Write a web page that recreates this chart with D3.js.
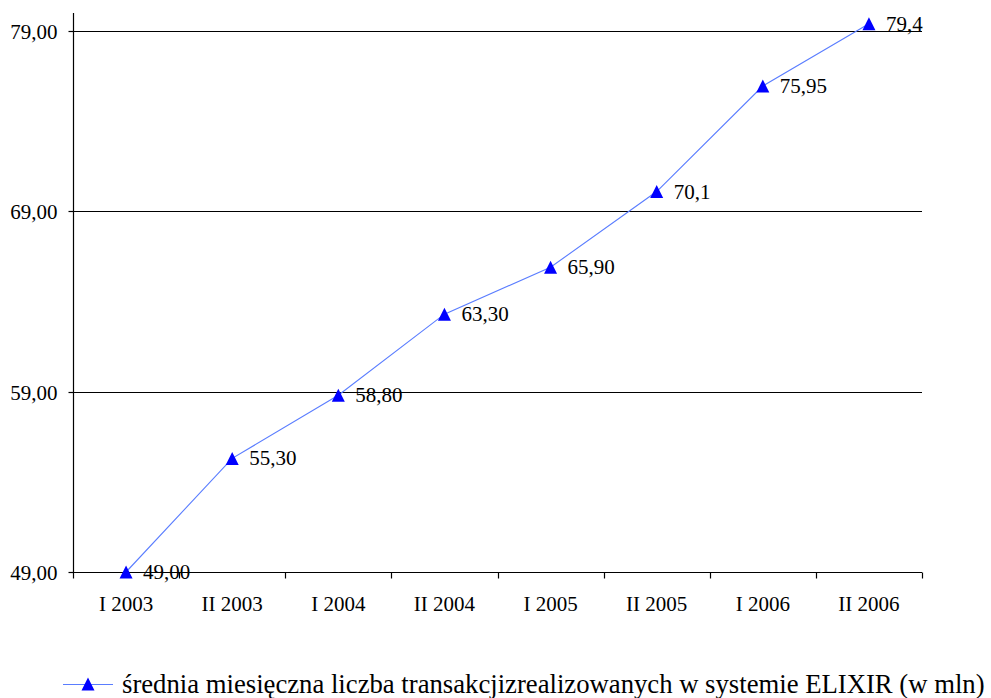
<!DOCTYPE html>
<html>
<head>
<meta charset="utf-8">
<script src="https://cdn.jsdelivr.net/npm/d3@7"></script>
<style>
  html, body { margin: 0; padding: 0; background: #fff; }
  svg { display: block; }
  svg text { font-family: "Liberation Serif", "Times New Roman", "DejaVu Serif", serif; fill: #000; }
</style>
</head>
<body>
<svg id="chart" width="991" height="698"></svg>
<script>
// Half-year periods
const categories = ["I 2003", "II 2003", "I 2004", "II 2004", "I 2005", "II 2005", "I 2006", "II 2006"];
// Average monthly number of ELIXIR transactions (millions)
const values = [49.00, 55.30, 58.80, 63.30, 65.90, 70.1, 75.95, 79.4];
// Value labels as printed next to each point
const valueLabels = ["49,00", "55,30", "58,80", "63,30", "65,90", "70,1", "75,95", "79,4"];
const yTicks = [49, 59, 69, 79];
const legendLabel = "średnia miesięczna liczba transakcjizrealizowanych w systemie ELIXIR (w mln)";

const svg = d3.select("#chart");
const plotLeft = 73, plotRight = 922, plotTop = 13, plotBottom = 572;
const labelFont = "21px";

const x = d3.scaleBand().domain(categories).range([plotLeft, plotRight]);
const y = d3.scaleLinear().domain([49, 80]).range([plotBottom, plotTop]);

// Horizontal gridlines
svg.append("g")
  .selectAll("line")
  .data(yTicks)
  .join("line")
  .attr("x1", plotLeft).attr("x2", plotRight)
  .attr("y1", d => Math.round(y(d)) + 0.5).attr("y2", d => Math.round(y(d)) + 0.5)
  .attr("stroke", "#000").attr("stroke-width", 1.2);

// Y axis
const yAxis = svg.append("g")
  .attr("transform", `translate(${plotLeft + 0.5},0)`)
  .call(d3.axisLeft(y).tickValues(yTicks).tickSize(5).tickPadding(11)
    .tickFormat(d => d3.format(".2f")(d).replace(".", ",")));
yAxis.attr("font-family", null).attr("font-size", null);
yAxis.select(".domain").attr("d", `M0,${plotTop}V${plotBottom}`).attr("stroke", "#000").attr("stroke-width", 1.2);
yAxis.selectAll(".tick line").attr("stroke", "#000").attr("stroke-width", 1.2);
yAxis.selectAll(".tick").attr("transform", d => `translate(0,${Math.round(y(d)) + 0.5})`);
yAxis.selectAll("text").style("font-size", labelFont).attr("dy", "0.35em");

// X axis with ticks on category boundaries
const xAxis = svg.append("g")
  .attr("transform", `translate(0,${plotBottom + 0.5})`);
xAxis.append("line")
  .attr("x1", plotLeft).attr("x2", plotRight)
  .attr("stroke", "#000").attr("stroke-width", 1.2);
const bounds = categories.map(c => x(c)).concat([x(categories[categories.length - 1]) + x.bandwidth()]);
xAxis.selectAll("line.tk")
  .data(bounds)
  .join("line").attr("class", "tk")
  .attr("x1", d => Math.round(d) + 0.5).attr("x2", d => Math.round(d) + 0.5)
  .attr("y1", 0).attr("y2", 6)
  .attr("stroke", "#000").attr("stroke-width", 1.2);
xAxis.selectAll("text")
  .data(categories)
  .join("text")
  .attr("x", d => x(d) + x.bandwidth() / 2)
  .attr("y", 38)
  .attr("text-anchor", "middle")
  .style("font-size", labelFont)
  .text(d => d);

const cx = d => x(d) + x.bandwidth() / 2;
const pts = categories.map((c, i) => ({ c, v: values[i], label: valueLabels[i] }));

// Series line
svg.append("path")
  .datum(pts)
  .attr("d", d3.line().x(d => cx(d.c)).y(d => y(d.v)))
  .attr("fill", "none")
  .attr("stroke", "#5a7dff")
  .attr("stroke-width", 1.1);

// Triangle marker, 12px wide and 13px tall, centred on its bounding box
const triangleShape = {
  draw(ctx) {
    ctx.moveTo(0, -6.5);
    ctx.lineTo(6.5, 6.5);
    ctx.lineTo(-6.5, 6.5);
    ctx.closePath();
  }
};
const tri = d3.symbol().type(triangleShape);
svg.append("g")
  .selectAll("path")
  .data(pts)
  .join("path")
  .attr("d", tri)
  .attr("transform", d => `translate(${cx(d.c)},${y(d.v)})`)
  .attr("fill", "#0000ff");

// Value labels
svg.append("g")
  .selectAll("text")
  .data(pts)
  .join("text")
  .attr("x", d => cx(d.c) + 17)
  .attr("y", d => y(d.v) + 7)
  .style("font-size", labelFont)
  .text(d => d.label);

// Legend
const lg = svg.append("g").attr("transform", "translate(0,684)");
lg.append("line").attr("x1", 63).attr("x2", 113).attr("y1", 0.5).attr("y2", 0.5)
  .attr("stroke", "#5a7dff").attr("stroke-width", 1.1);
lg.append("path").attr("d", tri).attr("transform", "translate(88,0)").attr("fill", "#0000ff");
lg.append("text").attr("x", 122).attr("y", 9).style("font-size", "26.7px").text(legendLabel);
</script>
</body>
</html>
